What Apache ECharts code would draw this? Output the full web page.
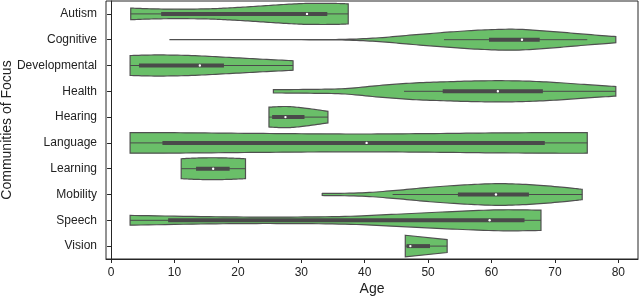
<!DOCTYPE html>
<html>
<head>
<meta charset="utf-8">
<script src="https://cdn.jsdelivr.net/npm/echarts@6/dist/echarts.min.js"></script>
<style>html,body{margin:0;padding:0;background:#fff}#c{width:640px;height:298px}</style>
</head>
<body>
<div id="c"></div>
<script>
var categories = ['Autism','Cognitive','Developmental','Health','Hearing','Language','Learning','Mobility','Speech','Vision'];
var xTicks = [0,10,20,30,40,50,60,70,80];
// violin outline knots: [age, full width in category units]
var profileAutism = [[3.1,0.45],[6,0.40],[10,0.37],[15,0.39],[18,0.45],[22,0.56],[26,0.69],[30,0.80],[33,0.82],[35.5,0.81],[37.4,0.78]];
var profileCognitive = [[9.2,0],[30,0.005],[37,0.03],[42.3,0.15],[47.6,0.37],[53,0.58],[58.4,0.75],[63.8,0.81],[69.2,0.65],[74.6,0.43],[79.6,0.24]];
var profileDevelopmental = [[3.0,0.77],[7.3,0.82],[12.7,0.77],[18.1,0.64],[23.4,0.50],[28.7,0.37]];
var profileHealth = [[25.6,0.13],[31.5,0.15],[36.9,0.21],[42.3,0.45],[47.6,0.64],[53,0.74],[58.4,0.81],[63.8,0.81],[69.2,0.71],[74.6,0.53],[79.6,0.37]];
var profileHearing = [[24.9,0.77],[27.7,0.82],[30.5,0.70],[34.2,0.45]];
var profileLanguage = [[3.0,0.80],[10,0.79],[20,0.75],[30,0.71],[40,0.69],[50,0.72],[60,0.77],[70,0.80],[75.1,0.80]];
var profileLearning = [[11.06,0.77],[13,0.82],[16,0.85],[19,0.82],[21.2,0.77]];
var profileMobility = [[33.3,0.08],[39.6,0.13],[45,0.32],[50.3,0.56],[55.7,0.74],[61.1,0.84],[66.5,0.75],[71.9,0.53],[74.3,0.40]];
var profileSpeech = [[3.0,0.38],[15.4,0.28],[26.1,0.25],[36.9,0.30],[45,0.47],[53,0.66],[61.1,0.81],[67.8,0.79]];
var profileVision = [[46.4,0.84],[53.0,0.50]];
var profiles = [profileAutism,profileCognitive,profileDevelopmental,profileHealth,profileHearing,profileLanguage,profileLearning,profileMobility,profileSpeech,profileVision];
var whiskerLo = [3.1,52.5,3.0,46.2,24.9,3.0,11.06,44.4,3.0,46.4];
var whiskerHi = [37.4,75.1,28.7,79.6,34.2,75.1,21.2,74.3,67.8,53.0];
var q1 = [7.9,59.6,4.4,52.3,25.4,8.1,13.4,54.7,9.0,46.6];
var medians = [30.9,64.8,14.0,61.0,27.5,40.3,16.1,60.7,59.7,47.2];
var q3 = [34.1,67.6,17.8,68.1,30.5,68.4,18.7,65.9,65.2,50.3];

var chart = echarts.init(document.getElementById('c'));
var FONT = 'Liberation Sans';

function sampleEdge(pts){
  // Catmull-Rom smoothing of knot points (pixel space) for rendering
  var out = [];
  var n = pts.length;
  if (n < 3) return pts.slice();
  for (var i = 0; i < n - 1; i++) {
    var p0 = pts[Math.max(i-1,0)], p1 = pts[i], p2 = pts[i+1], p3 = pts[Math.min(i+2,n-1)];
    var steps = 10;
    for (var s = 0; s < steps; s++) {
      var t = s/steps, t2 = t*t, t3 = t2*t;
      var x = 0.5*((2*p1[0]) + (-p0[0]+p2[0])*t + (2*p0[0]-5*p1[0]+4*p2[0]-p3[0])*t2 + (-p0[0]+3*p1[0]-3*p2[0]+p3[0])*t3);
      var w = 0.5*((2*p1[1]) + (-p0[1]+p2[1])*t + (2*p0[1]-5*p1[1]+4*p2[1]-p3[1])*t2 + (-p0[1]+3*p1[1]-3*p2[1]+p3[1])*t3);
      out.push([x, Math.max(w,0)]);
    }
  }
  out.push(pts[n-1]);
  return out;
}

function renderViolin(params, api){
  var i = params.dataIndex;
  var band = api.size([0,1])[1];
  var yc = api.coord([0, i])[1];
  var prof = profiles[i];
  var knots = prof.map(function(p){ return [api.coord([p[0], i])[0], p[1]*band/2]; });
  var edge = sampleEdge(knots);
  var poly = [];
  edge.forEach(function(p){ poly.push([p[0], yc - p[1]]); });
  for (var k = edge.length-1; k >= 0; k--) poly.push([edge[k][0], yc + edge[k][1]]);
  var xl = api.coord([whiskerLo[i], i])[0], xh = api.coord([whiskerHi[i], i])[0];
  var b1 = api.coord([q1[i], i])[0], b3 = api.coord([q3[i], i])[0];
  var xm = api.coord([medians[i], i])[0];
  return {
    type: 'group',
    children: [
      {type:'polygon', shape:{points:poly}, style:{fill:'#6abf69', stroke:'#505050', lineWidth:1.2}},
      {type:'line', shape:{x1:xl, y1:yc, x2:xh, y2:yc}, style:{stroke:'#4a4a4a', lineWidth:1}},
      {type:'rect', shape:{x:b1, y:yc-2, width:b3-b1, height:4}, style:{fill:'#4a4a4a'}},
      {type:'circle', shape:{cx:xm, cy:yc, r:1.2}, style:{fill:'#ffffff'}}
    ]
  };
}

var seriesData = categories.map(function(c, i){ return [medians[i], i]; });

chart.setOption({
  animation: false,
  grid: {left: 106, right: 2, top: 1, bottom: 39, outerBoundsMode: 'none', containLabel: false,
         show: true, borderColor: '#262626', borderWidth: 1, backgroundColor: 'transparent'},
  xAxis: {
    type: 'value', min: -0.8, max: 83.1,
    name: 'Age', nameLocation: 'middle', nameGap: 23, nameMoveOverlap: false,
    nameTextStyle: {fontFamily: FONT, fontSize: 14, color: '#222'},
    axisLine: {show: true, lineStyle: {color: '#262626', width: 1}},
    axisTick: {show: true, length: 4, lineStyle: {color: '#262626'}, customValues: xTicks},
    axisLabel: {fontFamily: FONT, fontSize: 12, color: '#222', margin: 8, customValues: xTicks},
    splitLine: {show: false}
  },
  yAxis: {
    type: 'category', data: categories, inverse: true,
    name: 'Communities of Focus', nameLocation: 'middle', nameGap: 92, nameMoveOverlap: false,
    nameTextStyle: {fontFamily: FONT, fontSize: 14, color: '#222'},
    axisLine: {show: true, lineStyle: {color: '#262626', width: 1}},
    axisTick: {show: true, length: 4, alignWithLabel: true, lineStyle: {color: '#262626'}},
    axisLabel: {fontFamily: FONT, fontSize: 12, color: '#222', margin: 9},
    splitLine: {show: false}
  },
  series: [{
    type: 'custom',
    renderItem: renderViolin,
    data: seriesData,
    encode: {x: 0, y: 1},
    clip: false
  }]
});
</script>
</body>
</html>
